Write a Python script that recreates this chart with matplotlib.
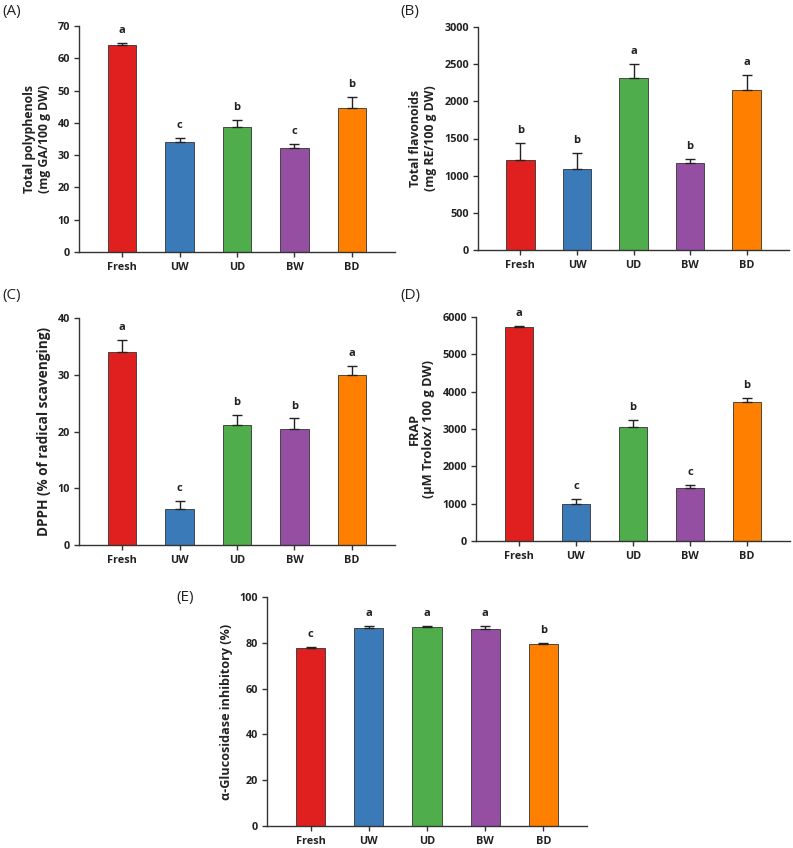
import matplotlib
matplotlib.use("Agg")
import matplotlib.pyplot as plt
import numpy as np

plt.rcParams['font.family'] = ['Open Sans', 'DejaVu Sans']

categories = ["Fresh", "UW", "UD", "BW", "BD"]
colors = ["#E01F1F", "#3A7AB9", "#4FAE4B", "#944FA3", "#FF8000"]

poly_mean = [64.1, 34.0, 38.7, 32.2, 44.6]
poly_err = [0.5, 1.3, 2.3, 1.2, 3.4]
poly_letters = ["a", "c", "b", "c", "b"]

flav_mean = [1205, 1084, 2320, 1164, 2154]
flav_err = [237, 215, 179, 63, 201]
flav_letters = ["b", "b", "a", "b", "a"]

dpph_mean = [34.0, 6.3, 21.1, 20.4, 29.9]
dpph_err = [2.1, 1.4, 1.8, 1.9, 1.7]
dpph_letters = ["a", "c", "b", "b", "a"]

frap_mean = [5720, 990, 3054, 1420, 3714]
frap_err = [30, 125, 178, 90, 107]
frap_letters = ["a", "c", "b", "c", "b"]

gluc_mean = [77.9, 86.3, 87.0, 86.1, 79.4]
gluc_err = [0.3, 0.9, 0.3, 1.4, 0.4]
gluc_letters = ["c", "a", "a", "a", "b"]

W, H = 793, 848
fig = plt.figure(figsize=(W / 100, H / 100), dpi=100)

def rect(l, r, t, b):
    return [l / W, 1 - b / H, (r - l) / W, (b - t) / H]

panels = [
    ("(A)", rect(79, 395, 26, 252), poly_mean, poly_err, poly_letters,
     "Total polyphenols\n(mg GA/100 g DW)", 8.8, (0, 70), np.arange(0, 71, 10), (2, 12)),
    ("(B)", rect(478, 789, 27, 250), flav_mean, flav_err, flav_letters,
     "Total flavonoids\n(mg RE/100 g DW)", 8.8, (0, 3000), np.arange(0, 3001, 500), (400, 12)),
    ("(C)", rect(79, 395, 318, 545), dpph_mean, dpph_err, dpph_letters,
     "DPPH (% of radical scavenging)", 9.8, (0, 40), np.arange(0, 41, 10), (2, 296)),
    ("(D)", rect(476, 790, 317, 541), frap_mean, frap_err, frap_letters,
     "FRAP\n(\u00b5M Trolox/ 100 g DW)", 9.2, (0, 6000), np.arange(0, 6001, 1000), (400, 296)),
    ("(E)", rect(267, 587, 597, 826), gluc_mean, gluc_err, gluc_letters,
     "\u03b1-Glucosidase inhibitory (%)", 9.1, (0, 100), np.arange(0, 101, 20), (176, 598)),
]

x = np.arange(len(categories))
for lab, pos, mean, err, letters, ylabel, yls, ylim, yticks, lpos in panels:
    ax = fig.add_axes(pos)
    ax.bar(x, mean, width=0.5, color=colors, edgecolor="#333333", linewidth=0.6, zorder=2)
    ax.errorbar(x, mean, yerr=[np.zeros(len(err)), err], fmt="none", ecolor="#222222",
                elinewidth=1.0, capsize=3.5, capthick=1.0, zorder=3)
    for xi, m, e, l in zip(x, mean, err, letters):
        ax.annotate(l, (xi, m + e), xytext=(0, 5), textcoords="offset points",
                    ha="center", va="bottom", fontsize=8, fontweight="bold", color="#222222")
    ax.set_xlim(-0.75, 4.75)
    ax.set_ylim(*ylim)
    ax.set_yticks(yticks)
    ax.set_xticks(x)
    ax.set_xticklabels(categories)
    for s in ["top", "right"]:
        ax.spines[s].set_visible(False)
    for s in ["left", "bottom"]:
        ax.spines[s].set_linewidth(1.0)
        ax.spines[s].set_color("#333333")
    ax.tick_params(axis="both", direction="out", length=3.5, width=1.0, color="#333333",
                   labelsize=7.8, pad=3)
    ax.tick_params(axis="x", pad=4)
    for t in ax.get_xticklabels() + ax.get_yticklabels():
        t.set_fontweight("bold")
        t.set_color("#222222")
    ax.set_ylabel(ylabel, fontsize=yls, fontweight="bold", color="#222222", labelpad=5,
                  linespacing=1.2)
    fig.text(lpos[0] / W, 1 - lpos[1] / H, lab, fontsize=11, ha="left", va="center",
             color="#222222")

fig.savefig("out.png", dpi=100)
